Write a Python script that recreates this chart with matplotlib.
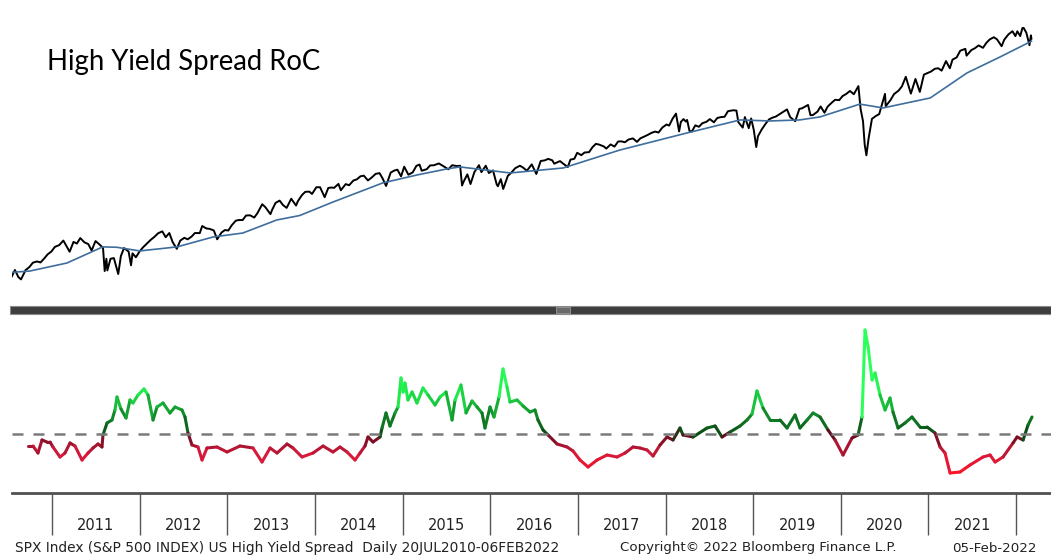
import matplotlib
matplotlib.use('Agg')
import matplotlib.pyplot as plt
from matplotlib.collections import LineCollection
from matplotlib.colors import LinearSegmentedColormap, Normalize
from matplotlib.patches import Rectangle
import numpy as np
import pandas as pd

# SPX Index (daily, sampled)
spx_dates = [
    '2010-07-20', '2010-08-02', '2010-08-16', '2010-08-27', '2010-09-01', '2010-09-15', '2010-10-01', '2010-10-15',
    '2010-11-01', '2010-11-16', '2010-12-01', '2010-12-15', '2010-12-31',
    '2011-01-14', '2011-02-01', '2011-02-18', '2011-03-01', '2011-03-16', '2011-04-01', '2011-04-15', '2011-04-29',
    '2011-05-16', '2011-06-01', '2011-06-15', '2011-07-01', '2011-07-15', '2011-08-01', '2011-08-08', '2011-08-15',
    '2011-08-19', '2011-09-01', '2011-09-15', '2011-10-03', '2011-10-14', '2011-10-27', '2011-11-15', '2011-11-25',
    '2011-12-01', '2011-12-15', '2011-12-30',
    '2012-01-13', '2012-02-01', '2012-02-15', '2012-03-01', '2012-03-15', '2012-04-02', '2012-04-16', '2012-05-01',
    '2012-05-15', '2012-06-01', '2012-06-15', '2012-07-02', '2012-07-16', '2012-08-01', '2012-08-15', '2012-09-04',
    '2012-09-14', '2012-10-01', '2012-10-15', '2012-11-01', '2012-11-15', '2012-12-03', '2012-12-17', '2012-12-31',
    '2013-01-15', '2013-02-01', '2013-02-15', '2013-03-01', '2013-03-15', '2013-04-01', '2013-04-18', '2013-05-01',
    '2013-05-21', '2013-06-03', '2013-06-24', '2013-07-01', '2013-07-15', '2013-08-01', '2013-08-15', '2013-08-30',
    '2013-09-18', '2013-10-08', '2013-10-15', '2013-11-01', '2013-11-15', '2013-12-02', '2013-12-13', '2013-12-31',
    '2014-01-15', '2014-02-03', '2014-02-18', '2014-03-03', '2014-03-14', '2014-04-01', '2014-04-11', '2014-05-01',
    '2014-05-15', '2014-06-02', '2014-06-16', '2014-07-01', '2014-07-15', '2014-08-01', '2014-08-15', '2014-09-02',
    '2014-09-18', '2014-10-01', '2014-10-15', '2014-11-03', '2014-11-17', '2014-12-01', '2014-12-16', '2014-12-29',
    '2015-01-15', '2015-02-02', '2015-02-17', '2015-03-02', '2015-03-11', '2015-04-01', '2015-04-15', '2015-05-01',
    '2015-05-21', '2015-06-01', '2015-06-15', '2015-06-29', '2015-07-15', '2015-08-03', '2015-08-17', '2015-08-25',
    '2015-09-01', '2015-09-16', '2015-09-29', '2015-10-15', '2015-11-03', '2015-11-13', '2015-12-01', '2015-12-14',
    '2015-12-31',
    '2016-01-15', '2016-01-20', '2016-02-01', '2016-02-11', '2016-03-01', '2016-03-15', '2016-04-01', '2016-04-20',
    '2016-05-02', '2016-05-19', '2016-06-08', '2016-06-27', '2016-07-15', '2016-08-01', '2016-08-15', '2016-09-01',
    '2016-09-09', '2016-10-03', '2016-10-14', '2016-11-04', '2016-11-15', '2016-12-01', '2016-12-13', '2016-12-30',
    '2017-01-13', '2017-02-01', '2017-02-15', '2017-03-01', '2017-03-15', '2017-04-03', '2017-04-13', '2017-05-01',
    '2017-05-17', '2017-06-01', '2017-06-15', '2017-06-29', '2017-07-14', '2017-08-01', '2017-08-18', '2017-09-01',
    '2017-09-15', '2017-10-02', '2017-10-16', '2017-11-01', '2017-11-15', '2017-12-01', '2017-12-18', '2017-12-29',
    '2018-01-12', '2018-01-26', '2018-02-08', '2018-02-15', '2018-02-26', '2018-03-08', '2018-03-13', '2018-03-23',
    '2018-04-02', '2018-04-16', '2018-05-01', '2018-05-15', '2018-06-01', '2018-06-15', '2018-07-02', '2018-07-16',
    '2018-08-01', '2018-08-15', '2018-08-29', '2018-09-20', '2018-10-03', '2018-10-11', '2018-10-29', '2018-11-07',
    '2018-11-23', '2018-12-03', '2018-12-14', '2018-12-24', '2018-12-31',
    '2019-01-15', '2019-02-01', '2019-02-15', '2019-03-01', '2019-03-15', '2019-04-01', '2019-04-15', '2019-04-30',
    '2019-05-13', '2019-06-03', '2019-06-20', '2019-07-01', '2019-07-26', '2019-08-05', '2019-08-15', '2019-09-03',
    '2019-09-16', '2019-10-02', '2019-10-15', '2019-11-01', '2019-11-15', '2019-12-02', '2019-12-16', '2019-12-31',
    '2020-01-15', '2020-01-31', '2020-02-19', '2020-02-28', '2020-03-09', '2020-03-16', '2020-03-23', '2020-04-01',
    '2020-04-15', '2020-05-01', '2020-05-15', '2020-06-08', '2020-06-11', '2020-07-01', '2020-07-15', '2020-08-03',
    '2020-08-17', '2020-09-02', '2020-09-23', '2020-10-12', '2020-10-30', '2020-11-16', '2020-12-01', '2020-12-15',
    '2020-12-31',
    '2021-01-15', '2021-01-29', '2021-02-16', '2021-03-04', '2021-03-15', '2021-04-01', '2021-04-16', '2021-05-07',
    '2021-05-12', '2021-06-01', '2021-06-15', '2021-07-01', '2021-07-19', '2021-08-02', '2021-08-16', '2021-09-02',
    '2021-09-15', '2021-10-04', '2021-10-15', '2021-11-01', '2021-11-18', '2021-11-30', '2021-12-08', '2021-12-20',
    '2021-12-29', '2022-01-03', '2022-01-14', '2022-01-27', '2022-02-02', '2022-02-04',
]
spx_vals = [
    1083, 1126, 1080, 1064, 1080, 1125, 1146, 1176, 1185, 1178, 1206, 1236, 1258,
    1293, 1307, 1343, 1306, 1256, 1332, 1319, 1363, 1329, 1315, 1265, 1339, 1316, 1286, 1119, 1204,
    1123, 1204, 1209, 1099, 1224, 1284, 1257, 1158, 1244, 1215, 1257,
    1289, 1324, 1350, 1374, 1402, 1419, 1370, 1405, 1330, 1278, 1342, 1365, 1353, 1375, 1405, 1404,
    1465, 1444, 1440, 1427, 1353, 1409, 1430, 1426,
    1472, 1513, 1519, 1518, 1560, 1562, 1541, 1582, 1669, 1640, 1573, 1614, 1682, 1706, 1661, 1633,
    1725, 1656, 1698, 1762, 1798, 1800, 1775, 1848,
    1848, 1741, 1840, 1845, 1841, 1885, 1815, 1883, 1870, 1924, 1937, 1973, 1981, 1925, 1955, 2002,
    2011, 1946, 1862, 2017, 2041, 2053, 1972, 2090,
    1992, 2020, 2100, 2117, 2040, 2059, 2106, 2108, 2131, 2111, 2085, 2057, 2108, 2098, 2102, 1867,
    1914, 1996, 1884, 2023, 2109, 2023, 2102, 2012, 2044,
    1880, 1859, 1940, 1829, 1978, 2015, 2072, 2102, 2081, 2040, 2119, 2001, 2162, 2171, 2190, 2171,
    2128, 2161, 2133, 2085, 2180, 2191, 2271, 2239,
    2275, 2280, 2349, 2396, 2385, 2359, 2329, 2388, 2357, 2430, 2432, 2419, 2459, 2476, 2425, 2476,
    2500, 2529, 2557, 2579, 2564, 2642, 2690, 2673,
    2786, 2872, 2581, 2731, 2779, 2738, 2765, 2588, 2581, 2677, 2654, 2711, 2734, 2779, 2726, 2798,
    2813, 2818, 2914, 2930, 2925, 2728, 2641, 2813, 2632, 2790, 2600, 2351, 2507,
    2610, 2706, 2775, 2803, 2822, 2867, 2905, 2945, 2812, 2744, 2954, 2964, 3025, 2844, 2847, 2906,
    2998, 2887, 2995, 3066, 3120, 3113, 3191, 3231,
    3289, 3226, 3386, 2954, 2746, 2386, 2237, 2470, 2783, 2831, 2863, 3232, 3002, 3115, 3226, 3295,
    3381, 3580, 3237, 3534, 3270, 3627, 3662, 3694, 3756,
    3768, 3714, 3933, 3768, 3968, 4020, 4185, 4232, 4063, 4202, 4246, 4320, 4258, 4387, 4479, 4537,
    4480, 4300, 4471, 4613, 4704, 4567, 4701, 4568, 4793, 4796, 4662, 4326, 4589, 4500,
]

# moving average of SPX
ma_dates = ['2010-07-20', '2010-10-03', '2011-03-05', '2011-07-31', '2011-09-27', '2011-12-31', '2012-06-02',
            '2012-10-29', '2013-03-02', '2013-07-20', '2013-10-23', '2014-03-08', '2014-10-01', '2015-02-20',
            '2015-06-23', '2015-08-16', '2016-03-11', '2016-10-16', '2017-06-08', '2018-03-13', '2018-10-18',
            '2019-02-18', '2019-06-21', '2019-09-13', '2020-02-25', '2020-05-31', '2020-12-12', '2021-05-14',
            '2021-09-27', '2022-02-04']
ma_vals = [1110, 1119, 1174, 1293, 1290, 1262, 1293, 1372, 1405, 1519, 1560, 1690, 1896, 1989,
           2062, 2087, 2013, 2074, 2309, 2558, 2765, 2748, 2765, 2815, 3040, 2971, 3154, 3664,
           4030, 4430]

# US High Yield Spread rate of change (fractional year, value)
roc_t = [
    2010.731, 2010.788, 2010.844, 2010.890, 2010.946, 2010.980, 2011.014, 2011.094, 2011.150, 2011.207,
    2011.263, 2011.343, 2011.411, 2011.467, 2011.524, 2011.569, 2011.580, 2011.626, 2011.682, 2011.716,
    2011.739, 2011.784, 2011.841, 2011.886, 2011.920, 2011.977, 2012.045, 2012.090, 2012.147, 2012.192,
    2012.260, 2012.339, 2012.396, 2012.475, 2012.509, 2012.543, 2012.588, 2012.656, 2012.702, 2012.758,
    2012.871, 2012.985, 2013.132, 2013.279, 2013.381, 2013.472, 2013.551, 2013.664, 2013.732, 2013.834,
    2013.959, 2014.072, 2014.185, 2014.264, 2014.344, 2014.434, 2014.491, 2014.547, 2014.581, 2014.638,
    2014.717, 2014.740, 2014.785, 2014.830, 2014.887, 2014.921, 2014.955, 2014.978, 2015.000, 2015.034,
    2015.080, 2015.136, 2015.204, 2015.261, 2015.340, 2015.397, 2015.465, 2015.533, 2015.567, 2015.634,
    2015.691, 2015.759, 2015.816, 2015.872, 2015.906, 2015.963, 2016.008, 2016.065, 2016.110, 2016.155,
    2016.189, 2016.269, 2016.337, 2016.416, 2016.472, 2016.506, 2016.563, 2016.620, 2016.722, 2016.835,
    2016.903, 2016.982, 2017.073, 2017.175, 2017.288, 2017.401, 2017.492, 2017.582, 2017.661, 2017.741,
    2017.809, 2017.888, 2017.967, 2018.035, 2018.114, 2018.148, 2018.262, 2018.420, 2018.511, 2018.590,
    2018.681, 2018.794, 2018.873, 2018.930, 2018.986, 2019.054, 2019.134, 2019.247, 2019.326, 2019.417,
    2019.473, 2019.553, 2019.621, 2019.700, 2019.790, 2019.870, 2019.960, 2020.062, 2020.130, 2020.175,
    2020.209, 2020.244, 2020.289, 2020.323, 2020.379, 2020.436, 2020.492, 2020.526, 2020.583, 2020.662,
    2020.741, 2020.832, 2020.911, 2021.002, 2021.059, 2021.115, 2021.172, 2021.285, 2021.398, 2021.546,
    2021.625, 2021.682, 2021.772, 2021.885, 2021.931, 2021.999, 2022.055, 2022.100,
]
roc_vals = [
    -6, -6, -9.5, -3, -4, -4, -6.5, -11.5, -9.5, -4.5,
    -6, -13, -9.5, -7, -5, -6.5, -0.5, 5.5, 7, 12,
    18.5, 12.5, 8, 17, 15.5, 19.5, 22.5, 19.5, 7, 13.5,
    15.5, 10.5, 13.5, 12, 8.5, 0.5, -5.5, -6.5, -13, -7,
    -6.5, -9, -6, -7, -14, -7, -9.5, -5, -7, -11.5,
    -9.5, -6, -9, -6.5, -9, -13, -9.5, -6, -1.5, -4,
    -1.5, 3, 10.5, 4, 10.5, 13.5, 28, 21, 25.5, 17,
    21, 15.5, 23, 19.5, 14.5, 18.5, 21, 7, 17, 24.5,
    10.5, 16.5, 13.5, 10.5, 3, 13.5, 8.5, 18.5, 32.5, 23.5,
    16, 17, 14, 11, 12, 7, 2, -0.5, -5, -6.5,
    -8.5, -13, -16.5, -13, -10.5, -11.5, -9.5, -6.5, -7, -8,
    -11, -5.5, -1.5, -3, 3, -0.5, -1.5, 3, 4, -1.5,
    1, 4, 7, 10, 21.5, 13, 7, 7, 3, 9.5,
    3, 7, 10.5, 8.5, 2, -3, -10.5, -2, -0.5, 8.5,
    52, 43.5, 27, 30.5, 19.5, 12, 18, 11, 3, 5.5,
    8.5, 3.5, 3.5, 0.5, -6.5, -9.5, -19.5, -19, -15.5, -11.5,
    -10.5, -14, -11.5, -4.5, -1.5, -3, 4.5, 8.5,
]

years = ['2011', '2012', '2013', '2014', '2015', '2016', '2017', '2018', '2019', '2020', '2021']

d = pd.to_datetime(spx_dates)
spx_t = d.year + (d.dayofyear - 1) / 365.25
d = pd.to_datetime(ma_dates)
ma_t = d.year + (d.dayofyear - 1) / 365.25

fig = plt.figure(figsize=(10.51, 5.55), dpi=100)
W, H = 1051.0, 555.0
xlim = (2010.55, 2022.315)

# top panel: price + moving average
ax1 = fig.add_axes([12 / W, 1 - 305 / H, 1039 / W, 305 / H])
ax1.plot(spx_t, spx_vals, color='black', lw=1.4)
ax1.plot(ma_t, ma_vals, color='#3f6d9c', lw=1.2)
ax1.set_yscale('log')
ax1.set_ylim(913, 5670)
ax1.set_xlim(*xlim)
ax1.axis('off')

fig.text(47 / W, 1 - 62 / H, 'High Yield Spread RoC', fontsize=19.8, family='Lato',
         va='center', ha='left', color='black')

# separator bar between panels
fig.add_artist(Rectangle((10 / W, 1 - 314 / H), 1041 / W, 8 / H, transform=fig.transFigure,
                         facecolor='#3e3e3e', edgecolor='#8a8a8a', lw=0.8))
fig.add_artist(Rectangle((556 / W, 1 - 313 / H), 14 / W, 6 / H, transform=fig.transFigure,
                         facecolor='#6a6a6a', edgecolor='#9a9a9a', lw=0.6))

# bottom panel: RoC with red/green colouring
ax2 = fig.add_axes([12 / W, 1 - 493 / H, 1039 / W, 179 / H])
cmap = LinearSegmentedColormap.from_list('roc', [
    (0.0, '#ff1226'), (0.2, '#d61a3c'), (0.399, '#5e0c1e'),
    (0.401, '#0b4a14'), (0.6, '#128a2a'), (0.8, '#1ee84a'), (1.0, '#2aff5a')])
norm = Normalize(-20, 30)
t = np.array(roc_t)
v = np.array(roc_vals, dtype=float)
pts = np.column_stack([t, v]).reshape(-1, 1, 2)
segs = np.concatenate([pts[:-1], pts[1:]], axis=1)
lc = LineCollection(segs, cmap=cmap, norm=norm, linewidths=2.2, capstyle='round', joinstyle='round')
lc.set_array((v[:-1] + v[1:]) / 2)
ax2.add_collection(lc)
ax2.axhline(0, color='#7a7a7a', lw=1.8, dashes=(4.4, 4.0))
ax2.set_xlim(*xlim)
ax2.set_ylim(-29.5, 60)

for s in ['top', 'left', 'right']:
    ax2.spines[s].set_visible(False)
ax2.spines['bottom'].set_color('#505050')
ax2.spines['bottom'].set_linewidth(2)
ax2.set_yticks([])

tick_pos = np.linspace(2011.003, 2021.92, 12)
ax2.set_xticks(tick_pos)
ax2.set_xticklabels([])
ax2.tick_params(axis='x', length=30, width=1, color='#555555', direction='out')
for i, y in enumerate(years):
    ax2.text((tick_pos[i] + tick_pos[i + 1]) / 2, -33 / 179, y, transform=ax2.get_xaxis_transform(),
             ha='center', va='center', fontsize=10.5, color='#222222')

# footer
fig.text(15 / W, 1 - 548 / H, 'SPX Index (S&P 500 INDEX) US High Yield Spread  Daily 20JUL2010-06FEB2022',
         fontsize=9.9, va='center', ha='left', color='#222222')
fig.text(620 / W, 1 - 548 / H, 'Copyright\u00a9 2022 Bloomberg Finance L.P.',
         fontsize=9.6, va='center', ha='left', color='#222222')
fig.text(1037 / W, 1 - 548 / H, '05-Feb-2022', fontsize=9.6, va='center', ha='right', color='#222222')

fig.savefig('out.png', dpi=100)
